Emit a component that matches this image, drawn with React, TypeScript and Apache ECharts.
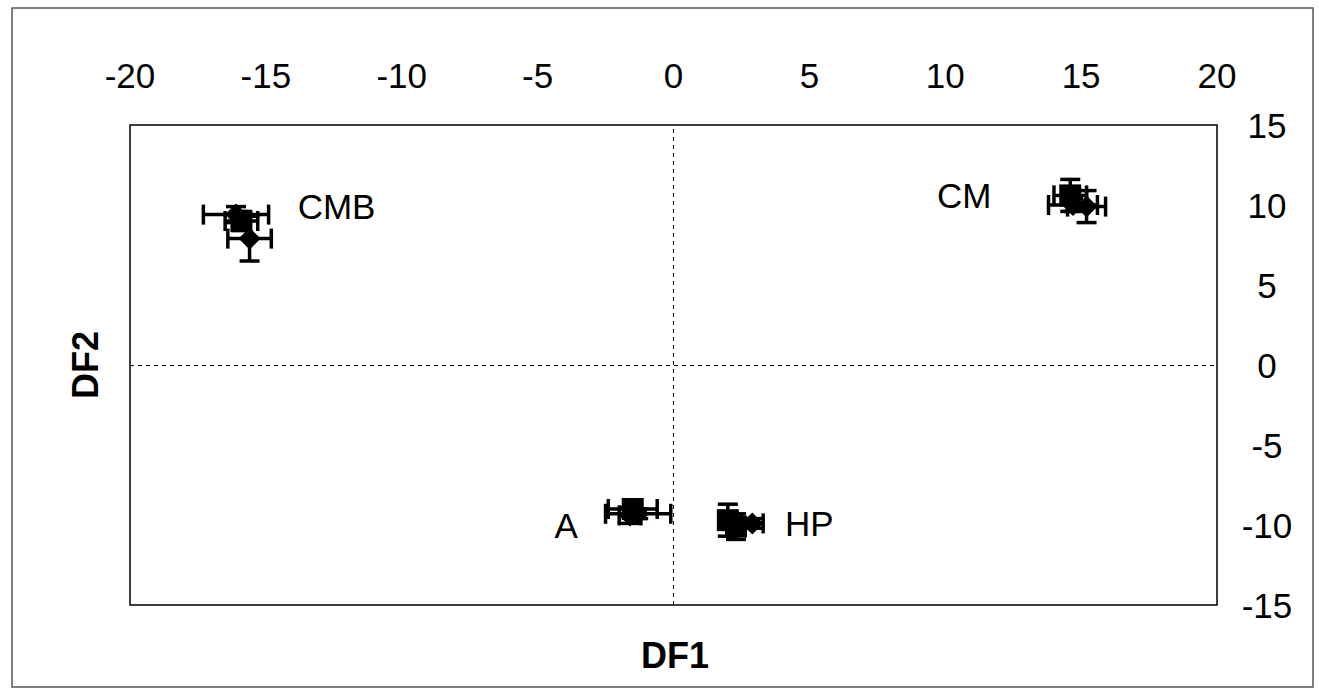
import React, { useEffect, useRef } from "react";
import * as echarts from "echarts";

// Group names and label anchor positions (data coordinates)
const groupNames = ["CMB", "CM", "A", "HP"];
const labelX = [-12.4, 10.7, -3.95, 5.0];
const labelY = [9.9, 10.6, -10.0, -9.9];

// Points: group index, DF1, DF2, DF1 error, DF2 error, marker
const ptGroup = [0, 0, 0, 1, 1, 1, 2, 2, 2, 3, 3, 3];
const ptX = [-16.1, -15.9, -15.6, 14.6, 14.7, 15.2, -1.5, -1.3, -1.6, 2.0, 2.3, 2.9];
const ptY = [9.4, 9.0, 7.9, 10.6, 10.0, 9.9, -9.0, -9.3, -9.4, -9.7, -10.1, -9.9];
const ptXErr = [1.2, 0.6, 0.8, 0.6, 0.9, 0.7, 0.9, 1.2, 0.4, 0.3, 0.3, 0.4];
const ptYErr = [0.5, 0.6, 1.4, 1.0, 0.4, 1.0, 0.4, 0.3, 0.5, 1.0, 0.8, 0.3];
const ptSymbol = ["diamond", "rect", "diamond", "rect", "diamond", "diamond", "rect", "diamond", "diamond", "rect", "rect", "diamond"];

const xTicks = { min: -20, max: 20, interval: 5 };
const yTicks = { min: -15, max: 15, interval: 5 };

const FONT = "'Liberation Sans', Arial, sans-serif";

export default function App() {
  const ref = useRef<HTMLDivElement>(null);
  useEffect(() => {
    const chart = echarts.init(ref.current!, null, { renderer: "svg" });
    const errData = ptX.map((x, i) => [x, ptY[i], ptXErr[i], ptYErr[i]]);
    const labelData = labelX.map((x, i) => [x, labelY[i], i]);
    const option: any = {
      animation: false,
      backgroundColor: "#fff",
      grid: {
        left: 130,
        top: 125,
        right: 102,
        bottom: 84,
        show: true,
        borderColor: "#000",
        borderWidth: 1.5,
        backgroundColor: "transparent",
      },
      xAxis: {
        type: "value",
        position: "top",
        min: xTicks.min,
        max: xTicks.max,
        interval: xTicks.interval,
        axisLine: { show: false },
        axisTick: { show: false },
        splitLine: { show: false },
        axisLabel: { fontFamily: FONT, fontSize: 35, color: "#000", margin: 32 },
      },
      yAxis: {
        type: "value",
        position: "right",
        min: yTicks.min,
        max: yTicks.max,
        interval: yTicks.interval,
        axisLine: { show: false },
        axisTick: { show: false },
        splitLine: { show: false },
        axisLabel: { fontFamily: FONT, fontSize: 35, color: "#000", margin: 50, align: "center" },
      },
      graphic: [
        {
          type: "rect",
          shape: { x: 12, y: 8, width: 1301, height: 679 },
          style: { fill: "none", stroke: "#555", lineWidth: 1.5 },
          silent: true,
        },
        {
          type: "text",
          x: 675,
          y: 655,
          style: {
            text: "DF1",
            font: `bold 36px ${FONT}`,
            fill: "#000",
            textAlign: "center",
            textVerticalAlign: "middle",
          },
        },
        {
          type: "text",
          x: 85,
          y: 365,
          rotation: Math.PI / 2,
          style: {
            text: "DF2",
            font: `bold 36px ${FONT}`,
            fill: "#000",
            textAlign: "center",
            textVerticalAlign: "middle",
          },
        },
      ],
      series: [
        {
          type: "custom",
          data: errData,
          renderItem: (params: any, api: any) => {
            const x = api.value(0), y = api.value(1), ex = api.value(2), ey = api.value(3);
            const l = api.coord([x - ex, y]);
            const r = api.coord([x + ex, y]);
            const t = api.coord([x, y + ey]);
            const b = api.coord([x, y - ey]);
            const cap = 10;
            const st = { stroke: "#000", lineWidth: 3.5 };
            return {
              type: "group",
              children: [
                { type: "line", shape: { x1: l[0], y1: l[1], x2: r[0], y2: r[1] }, style: st },
                { type: "line", shape: { x1: l[0], y1: l[1] - cap, x2: l[0], y2: l[1] + cap }, style: st },
                { type: "line", shape: { x1: r[0], y1: r[1] - cap, x2: r[0], y2: r[1] + cap }, style: st },
                { type: "line", shape: { x1: t[0], y1: t[1], x2: b[0], y2: b[1] }, style: st },
                { type: "line", shape: { x1: t[0] - cap, y1: t[1], x2: t[0] + cap, y2: t[1] }, style: st },
                { type: "line", shape: { x1: b[0] - cap, y1: b[1], x2: b[0] + cap, y2: b[1] }, style: st },
              ],
            };
          },
          z: 2,
        },
        {
          type: "scatter",
          data: ptX.map((x, i) => ({ value: [x, ptY[i]], symbol: ptSymbol[i], name: groupNames[ptGroup[i]] })),
          symbolSize: 22,
          itemStyle: { color: "#000", opacity: 1 },
          z: 3,
          markLine: {
            silent: true,
            symbol: "none",
            label: { show: false },
            lineStyle: { color: "#000", type: [4, 4], width: 1 },
            data: [{ xAxis: 0 }, { yAxis: 0 }],
          },
        },
        {
          type: "custom",
          data: labelData,
          renderItem: (params: any, api: any) => {
            const p = api.coord([api.value(0), api.value(1)]);
            return {
              type: "text",
              x: p[0],
              y: p[1],
              style: {
                text: groupNames[api.value(2)],
                font: `35px ${FONT}`,
                fill: "#000",
                textAlign: "center",
                textVerticalAlign: "middle",
              },
            };
          },
          z: 4,
        },
      ],
    };
    chart.setOption(option);
    return () => chart.dispose();
  }, []);
  return (
    <div
      ref={ref}
      style={{ position: "fixed", left: 0, top: 0, width: 1319, height: 689, background: "#fff" }}
    />
  );
}
